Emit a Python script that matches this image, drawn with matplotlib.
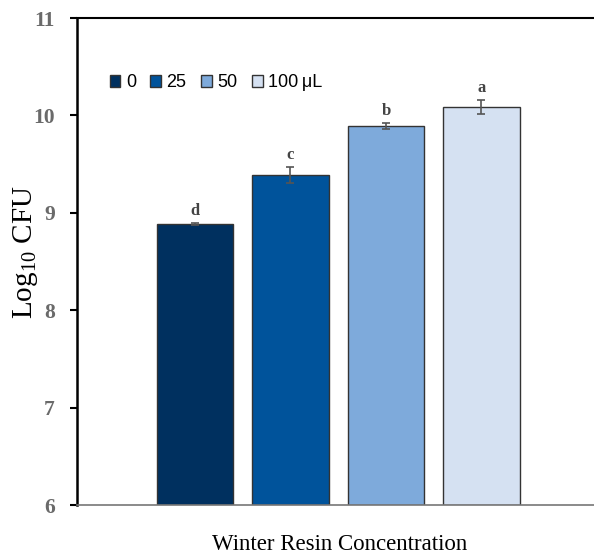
import matplotlib
matplotlib.use('Agg')
import matplotlib.pyplot as plt
import numpy as np

labels = ['0', '25', '50', '100\u2009μL']
values = [8.89, 9.39, 9.89, 10.09]
errors = [0.01, 0.08, 0.03, 0.07]
letters = ['d', 'c', 'b', 'a']
colors = ['#00305f', '#00539b', '#7eaadb', '#d5e1f2']

fig = plt.figure(figsize=(5.94, 5.54), dpi=100)
ax = fig.add_axes([0.1296, 0.0884, 0.8704, 0.879])

x = np.arange(len(values))
for i in range(len(values)):
    ax.bar(x[i], values[i] - 6, bottom=6, width=0.8, color=colors[i],
           edgecolor='#333333', linewidth=1.0, label=labels[i], zorder=2)
    ax.errorbar(x[i], values[i], yerr=errors[i], fmt='none', ecolor='#555555',
                elinewidth=1.2, capsize=3, capthick=1.2, zorder=3)
    ax.text(x[i], values[i] + errors[i] + 0.04, letters[i], ha='center', va='bottom',
            fontsize=12, family='Liberation Serif', fontweight='bold', color='#444444')

ax.set_xlim(-1.237, 4.18)
ax.set_ylim(6, 11)
ax.set_yticks([6, 7, 8, 9, 10, 11])
ax.set_xticks([])
ax.tick_params(axis='y', direction='out', length=5, width=1.5, pad=11,
               labelsize=15.5, labelcolor='#6a6a6a')
for t in ax.get_yticklabels():
    t.set_family('Liberation Serif')
    t.set_fontweight('bold')

ax.spines['right'].set_visible(False)
ax.spines['left'].set_linewidth(1.8)
ax.spines['top'].set_linewidth(1.5)
ax.spines['bottom'].set_linewidth(1.2)
ax.spines['bottom'].set_color('#777777')

fig.text(25 / 594, 1 - 252 / 554, 'Log$_{\\mathregular{10}}$ CFU', family='Liberation Serif',
         fontsize=21, rotation=90, ha='center', va='center')
fig.text(340 / 594, 1 - 544 / 554, 'Winter Resin Concentration', family='Liberation Serif',
         fontsize=16.5, ha='center', va='center')

ax.legend(loc='center left', bbox_to_anchor=(0.063, 0.867), ncol=4, frameon=False,
          handlelength=0.6, handleheight=0.6, handletextpad=0.3, columnspacing=0.8,
          prop={'family': ['Liberation Sans', 'DejaVu Sans'], 'size': 13}, borderaxespad=0, borderpad=0)

fig.savefig('out.png', dpi=100)
